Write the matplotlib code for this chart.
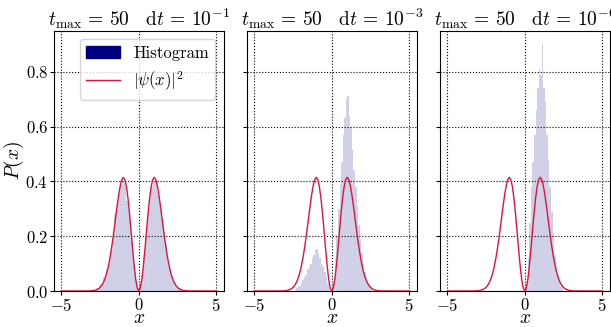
import numpy as np
import matplotlib
matplotlib.use("Agg")
import matplotlib.pyplot as plt
from matplotlib.patches import Patch

plt.rcParams['font.family'] = 'serif'
plt.rcParams['font.serif'] = ['cmr10']
plt.rcParams['mathtext.fontset'] = 'cm'
plt.rcParams['axes.formatter.use_mathtext'] = True
plt.rcParams['axes.unicode_minus'] = True

# |psi(x)|^2
curve_x = [-5.0] + list(np.round(np.arange(-3.5, 3.51, 0.1), 1)) + [5.0]
curve_y = [0.0,
           0.0001, 0.0001, 0.0002, 0.0004, 0.0007, 0.0013, 0.0021, 0.0035, 0.0056, 0.0088,
           0.0136, 0.0205, 0.0301, 0.0432, 0.0605, 0.0826, 0.1102, 0.1431, 0.1812, 0.2232,
           0.2675, 0.3115, 0.3517, 0.3848, 0.4070, 0.4150, 0.4065, 0.3807, 0.3386, 0.2833,
           0.2196, 0.1538, 0.0928, 0.0434, 0.0112, 0.0,
           0.0112, 0.0434, 0.0928, 0.1538, 0.2196, 0.2833, 0.3386, 0.3807, 0.4065, 0.4150,
           0.4070, 0.3848, 0.3517, 0.3115, 0.2675, 0.2232, 0.1812, 0.1431, 0.1102, 0.0826,
           0.0605, 0.0432, 0.0301, 0.0205, 0.0136, 0.0088, 0.0056, 0.0035, 0.0021, 0.0013,
           0.0007, 0.0004, 0.0002, 0.0001, 0.0001,
           0.0]

bin_w = 0.1

# dt = 1e-1
x1 = list(np.round(np.arange(-2.95, 2.96, 0.1), 2))
h1 = [0.0, 0.005, 0.01, 0.01, 0.02, 0.025, 0.03, 0.05, 0.06, 0.08,
      0.10, 0.12, 0.17, 0.21, 0.28, 0.29, 0.33, 0.37, 0.39, 0.41,
      0.40, 0.38, 0.33, 0.30, 0.24, 0.18, 0.12, 0.07, 0.03, 0.01,
      0.005, 0.03, 0.07, 0.12, 0.20, 0.26, 0.30, 0.36, 0.38, 0.41,
      0.40, 0.39, 0.36, 0.32, 0.30, 0.25, 0.21, 0.17, 0.12, 0.09,
      0.07, 0.05, 0.035, 0.03, 0.02, 0.01, 0.01, 0.005, 0.0, 0.0]

# dt = 1e-3
x2 = list(np.round(np.arange(-2.25, 2.56, 0.1), 2))
h2 = [0.01, 0.02, 0.02, 0.03, 0.04, 0.05, 0.06, 0.08, 0.09, 0.10,
      0.12, 0.13, 0.15, 0.155, 0.14, 0.12, 0.10, 0.09, 0.07, 0.05,
      0.03, 0.01, 0.0, 0.005, 0.03, 0.12, 0.20, 0.30, 0.39, 0.47,
      0.57, 0.63, 0.70, 0.71, 0.64, 0.60, 0.52, 0.44, 0.38, 0.31,
      0.24, 0.19, 0.14, 0.10, 0.07, 0.05, 0.03, 0.02, 0.01]

# dt = 1e-6
x3 = list(np.round(np.arange(0.15, 2.46, 0.1), 2))
h3 = [0.03, 0.12, 0.25, 0.38, 0.47, 0.57, 0.66, 0.74, 0.81, 0.79,
      0.90, 0.74, 0.69, 0.57, 0.48, 0.38, 0.29, 0.21, 0.13, 0.09,
      0.06, 0.04, 0.02, 0.01]

titles = [r'$t_{\max}\,=\,50\quad\mathrm{d}t\,=\,10^{-1}$',
          r'$t_{\max}\,=\,50\quad\mathrm{d}t\,=\,10^{-3}$',
          r'$t_{\max}\,=\,50\quad\mathrm{d}t\,=\,10^{-6}$']

fig, axes = plt.subplots(1, 3, sharey=True, figsize=(6.11, 3.27), dpi=100)
fig.subplots_adjust(left=0.088, right=0.998, bottom=0.110, top=0.906, wspace=0.135)

for ax, xs, hs, title in zip(axes, [x1, x2, x3], [h1, h2, h3], titles):
    ax.bar(xs, hs, width=bin_w, color='navy', alpha=0.2, edgecolor='white', linewidth=0.3)
    ax.plot(curve_x, curve_y, color='crimson', lw=1.0)
    ax.grid(True, color='k', linestyle=':', linewidth=0.8)
    ax.set_xticks([-5, 0, 5])
    ax.set_yticks([0.0, 0.2, 0.4, 0.6, 0.8])
    ax.set_xlim(-5.5, 5.5)
    ax.set_ylim(0, 0.95)
    ax.set_title(title, fontsize=14, pad=2)
    ax.set_xlabel(r'$x$', fontsize=14)
    ax.xaxis.set_label_coords(0.5, -0.07)
    ax.tick_params(labelsize=12, pad=1, length=3)

axes[0].set_ylabel(r'$P(x)$', fontsize=14)
axes[0].yaxis.set_label_coords(-0.165, 0.5)
handles = [Patch(color='navy'), plt.Line2D([], [], color='crimson', lw=1.0)]
axes[0].legend(handles, ['Histogram', r'$|\psi(x)|^2$'], loc='upper right', fontsize=12)

plt.savefig('out.png')
